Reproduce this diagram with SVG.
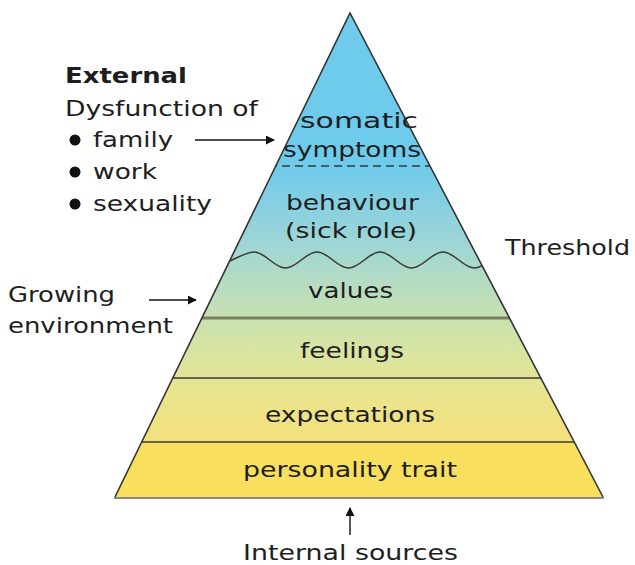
<svg xmlns="http://www.w3.org/2000/svg" width="635" height="565" viewBox="0 0 635 565">
<defs>
<linearGradient id="pyr" gradientUnits="userSpaceOnUse" x1="0" y1="13" x2="0" y2="497">
<stop offset="0" stop-color="#6ecbec"/>
<stop offset="0.314" stop-color="#6ecbec"/>
<stop offset="0.386" stop-color="#84cfe2"/>
<stop offset="0.49" stop-color="#a2d7d3"/>
<stop offset="0.572" stop-color="#b9ddbf"/>
<stop offset="0.676" stop-color="#d3e4a6"/>
<stop offset="0.8" stop-color="#ebe48c"/>
<stop offset="0.886" stop-color="#f3e07a"/>
<stop offset="1" stop-color="#f3e07a"/>
</linearGradient>
<clipPath id="tri"><polygon points="350,13 603,497 115,497"/></clipPath>
<marker id="ah" viewBox="0 0 10 10" refX="9" refY="5" markerWidth="9" markerHeight="9" markerUnits="userSpaceOnUse" orient="auto">
<path d="M0,0 L10,5 L0,10 z" fill="#111"/>
</marker>
</defs>
<style>
text{font-family:"DejaVu Sans","Verdana",sans-serif;font-size:22px;fill:#1e1e1e}
.b{font-weight:bold}
.band{fill:url(#pyr);stroke:none}
.sep{fill:none;stroke:#3a3a30;stroke-width:1.6}
.conn{stroke:#111;stroke-width:1.4;fill:none;marker-end:url(#ah)}
</style>
<g id="layers">
<g id="somatic"><polygon class="band" points="350,13 430,166 275.7,166"/>
<text x="300" y="128" textLength="118" lengthAdjust="spacingAndGlyphs">somatic</text>
<text x="283" y="157" textLength="138" lengthAdjust="spacingAndGlyphs">symptoms</text></g>
<g id="behaviour"><polygon class="band" points="275.7,166 430,166 479.1,260 230.1,260"/>
<text x="286" y="210" textLength="133" lengthAdjust="spacingAndGlyphs">behaviour</text>
<text x="285" y="238" textLength="132" lengthAdjust="spacingAndGlyphs">(sick role)</text></g>
<g id="values"><polygon class="band" points="230.1,260 479.1,260 509.4,318 201.9,318"/>
<text x="308" y="298" textLength="85" lengthAdjust="spacingAndGlyphs">values</text></g>
<g id="feelings"><polygon class="band" points="201.9,318 509.4,318 540.8,378 172.8,378"/>
<text x="300" y="358" textLength="104" lengthAdjust="spacingAndGlyphs">feelings</text></g>
<g id="expectations"><polygon class="band" points="172.8,378 540.8,378 574.25,442 141.7,442"/>
<text x="265" y="422" textLength="170" lengthAdjust="spacingAndGlyphs">expectations</text></g>
<g id="personality"><polygon points="141.7,442 574.25,442 603,497 115,497" fill="#f8df5e"/>
<text x="243" y="477" textLength="214" lengthAdjust="spacingAndGlyphs">personality trait</text></g>
</g>
<g id="separators" clip-path="url(#tri)">
<line x1="100" y1="166" x2="620" y2="166" class="sep" stroke-dasharray="8,5"/>
<path class="sep" d="M210,268 C221.5,268 242.5,252 254,252 C265.5,252 274,268 285.5,268 C297,268 305.5,252 317,252 C328.5,252 337,268 348.5,268 C360,268 368.5,252 380,252 C391.5,252 400,268 411.5,268 C423,268 431.5,252 443,252 C454.5,252 463,268 474.5,268 C486,268 494.5,252 506,252"/>
<line x1="100" y1="318" x2="620" y2="318" stroke="#7b7f62" stroke-width="3"/>
<line x1="100" y1="378" x2="620" y2="378" class="sep"/>
<line x1="100" y1="442" x2="620" y2="442" class="sep"/>
</g>
<g id="outline">
<polyline points="115,497 350,13 603,497" fill="none" stroke="#333" stroke-width="1.6"/>
<line x1="114" y1="498" x2="604" y2="498" stroke="#8a8a80" stroke-width="2.2"/>
</g>
<g id="external">
<text class="b" x="65" y="83" textLength="122" lengthAdjust="spacingAndGlyphs">External</text>
<text x="65" y="116" textLength="193" lengthAdjust="spacingAndGlyphs">Dysfunction of</text>
<circle cx="75" cy="140" r="5.5" fill="#111"/>
<text x="93" y="147" textLength="80" lengthAdjust="spacingAndGlyphs">family</text>
<circle cx="75" cy="172" r="5.5" fill="#111"/>
<text x="93" y="179" textLength="64" lengthAdjust="spacingAndGlyphs">work</text>
<circle cx="75" cy="204" r="5.5" fill="#111"/>
<text x="93" y="211" textLength="119" lengthAdjust="spacingAndGlyphs">sexuality</text>
</g>
<g id="threshold"><text x="505" y="255" textLength="125" lengthAdjust="spacingAndGlyphs">Threshold</text></g>
<g id="growing">
<text x="8" y="302" textLength="107" lengthAdjust="spacingAndGlyphs">Growing</text>
<text x="8" y="333" textLength="165" lengthAdjust="spacingAndGlyphs">environment</text>
</g>
<g id="internal"><text x="243" y="560" textLength="215" lengthAdjust="spacingAndGlyphs">Internal sources</text></g>
<g id="connectors">
<line class="conn" x1="195" y1="140" x2="274" y2="140"/>
<line class="conn" x1="149" y1="300" x2="196" y2="300"/>
<line class="conn" x1="350" y1="535" x2="350" y2="508"/>
</g>
</svg>
